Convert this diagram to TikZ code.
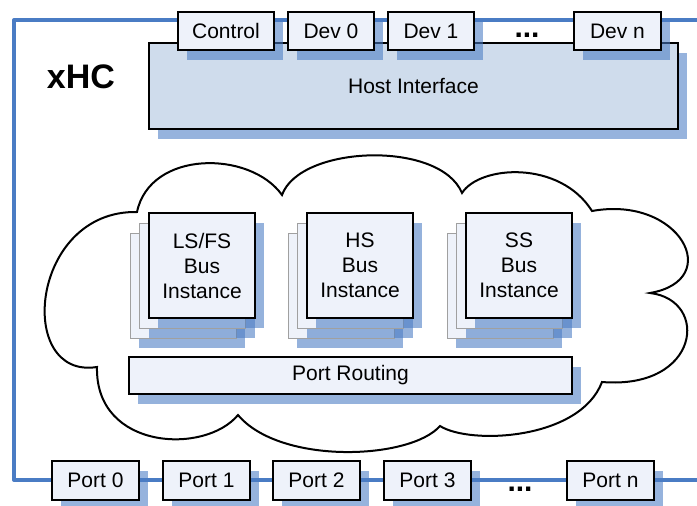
\documentclass[tikz,border=0pt]{standalone}
\usepackage{fontspec}
\setmainfont{Liberation Sans}
\usetikzlibrary{shadows}
\definecolor{frameblue}{HTML}{4A7CC4}
\definecolor{boxfill}{HTML}{EEF2FA}
\definecolor{hostfill}{HTML}{CFDCEC}
\definecolor{backgray}{HTML}{A0A0A0}
\tikzset{
  shad/.style={drop shadow={shadow xshift=9pt, shadow yshift=-10pt, fill=frameblue, opacity=0.58}},
  blk/.style={draw=black, line width=1.2pt, fill=boxfill, inner sep=0pt, shad,
    font=\fontsize{21}{25}\selectfont, align=center},
  topbox/.style={blk, minimum height=38pt},
  portbox/.style={blk, minimum width=87pt, minimum height=39pt},
  busbox/.style={blk, minimum width=106pt, minimum height=105pt},
  backbox/.style={draw=backgray, line width=1pt, fill=boxfill, inner sep=0pt, shad,
    minimum width=106pt, minimum height=105pt},
  frame/.style={draw=frameblue, line width=4pt, line join=round},
  cloudline/.style={draw=black, line width=2pt, fill=white},
  dots/.style={font=\fontsize{30}{34}\selectfont\bfseries, inner sep=0pt}
}
\begin{document}
\begin{tikzpicture}[x=1pt, y=-1pt]
\useasboundingbox (0,0) rectangle (697,506);
% frame
\coordinate (ftr) at (697,20);
\coordinate (ftl) at (14,20);
\coordinate (fbl) at (14,480);
\coordinate (fbr) at (697,480);
\draw[frame] (ftr) -- (ftl) -- (fbl) -- (fbr);
\node[font=\fontsize{34}{40}\selectfont\bfseries, inner sep=0pt] (xhc) at (81,77) {xHC};
% host interface
\node[blk, fill=hostfill, minimum width=529pt, minimum height=86pt] (host) at (413.5,86) {Host Interface};
% top boxes
\node[topbox, minimum width=96pt] (ctrl) at (226,31) {Control};
\node[topbox, minimum width=86pt] (dev0) at (331,31) {Dev 0};
\node[topbox, minimum width=86pt] (dev1) at (431,31) {Dev 1};
\node[dots] (tdots) at (527,35) {...};
\node[topbox, minimum width=87pt] (devn) at (617.5,31) {Dev n};
% cloud
\draw[cloudline] (137,212)
  .. controls (150,150) and (250,150) .. (282,195)
  .. controls (300,145) and (440,140) .. (462,193)
  .. controls (480,165) and (560,160) .. (592,211)
  .. controls (680,195) and (725,280) .. (650,293)
  .. controls (710,300) and (700,390) .. (602,382)
  .. controls (580,440) and (470,445) .. (440,426)
  .. controls (410,460) and (280,465) .. (238,415)
  .. controls (205,455) and (95,450) .. (97,367)
  .. controls (15,380) and (30,210) .. cycle;
% bus instances
\foreach \cx/\nm/\txt in {202/ls/{LS/FS\\Bus\\Instance}, 360/hs/{HS\\Bus\\Instance}, 519/ss/{SS\\Bus\\Instance}} {
  \node[backbox] (\nm b2) at (\cx-19,285.5) {};
  \node[backbox] (\nm b1) at (\cx-9.5,275.5) {};
  \node[busbox] (\nm) at (\cx,265.5) {\txt};
}
% port routing
\node[blk, minimum width=443pt, minimum height=37pt] (route) at (350.5,375.5) {Port Routing};
% ports
\node[portbox] (p0) at (95.5,480.5) {Port 0};
\node[portbox] (p1) at (206.5,480.5) {Port 1};
\node[portbox] (p2) at (316.5,480.5) {Port 2};
\node[portbox] (p3) at (427.5,480.5) {Port 3};
\node[dots] (bdots) at (520,489) {...};
\node[portbox] (pn) at (610.5,480.5) {Port n};
\end{tikzpicture}
\end{document}
